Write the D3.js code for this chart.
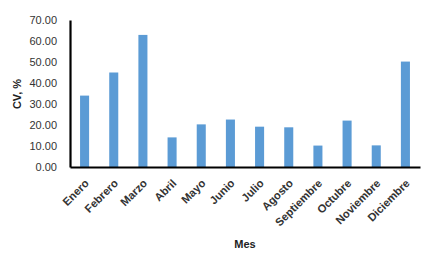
<!DOCTYPE html>
<html><head><meta charset="utf-8">
<script src="https://cdn.jsdelivr.net/npm/d3@7"></script>
<style>body{margin:0;background:#fff}</style>
</head><body><svg id="c" width="433" height="264"></svg>
<script>
const months = ["Enero","Febrero","Marzo","Abril","Mayo","Junio","Julio","Agosto","Septiembre","Octubre","Noviembre","Diciembre"];
const cvValues = [34.0,45.0,62.9,14.1,20.3,22.6,19.2,18.9,10.2,22.1,10.3,50.2];
const yTicks = [0,10,20,30,40,50,60,70];

const svg = d3.select("#c");
const L = 70, R = 420, T = 20, B = 167;
const font = "'Liberation Sans', Arial, sans-serif";
const x = d3.scaleBand().domain(months).range([L, R]).paddingInner(0.69).paddingOuter(0.345);
const y = d3.scaleLinear().domain([0, 70]).range([B, T]);

svg.selectAll("rect.bar").data(months).enter().append("rect")
  .attr("class","bar")
  .attr("x", d => x(d)).attr("width", x.bandwidth())
  .attr("y", (d,i) => y(cvValues[i])).attr("height", (d,i) => B - y(cvValues[i]))
  .attr("fill", "#5B9BD5");

const yAxis = svg.append("g").attr("transform", `translate(${L},0)`)
  .call(d3.axisLeft(y).tickValues(yTicks).tickFormat(d3.format(".2f")).tickSize(0).tickPadding(13));
yAxis.select(".domain").attr("stroke","#000").attr("stroke-width",2.2);
yAxis.selectAll("text").attr("font-family", font).attr("font-size", 11).attr("fill","#333");

const xAxis = svg.append("g").attr("transform", `translate(0,${B})`)
  .call(d3.axisBottom(x).tickSize(0).tickPadding(0));
xAxis.select(".domain").attr("stroke","#000").attr("stroke-width",2.2);
xAxis.selectAll("text")
  .attr("font-family", font).attr("font-size", 11.2).attr("font-weight","bold").attr("fill","#333")
  .attr("text-anchor","end").attr("dy", null).attr("y", 0)
  .attr("transform", "translate(5,17) rotate(-45)");

svg.append("text").attr("transform","translate(21,94) rotate(-90)")
  .attr("text-anchor","middle").attr("font-family",font).attr("font-size",11)
  .attr("font-weight","bold").attr("fill","#222").text("CV, %");
svg.append("text").attr("x",245).attr("y",248)
  .attr("text-anchor","middle").attr("font-family",font).attr("font-size",11)
  .attr("font-weight","bold").attr("fill","#222").text("Mes");
</script></body></html>
